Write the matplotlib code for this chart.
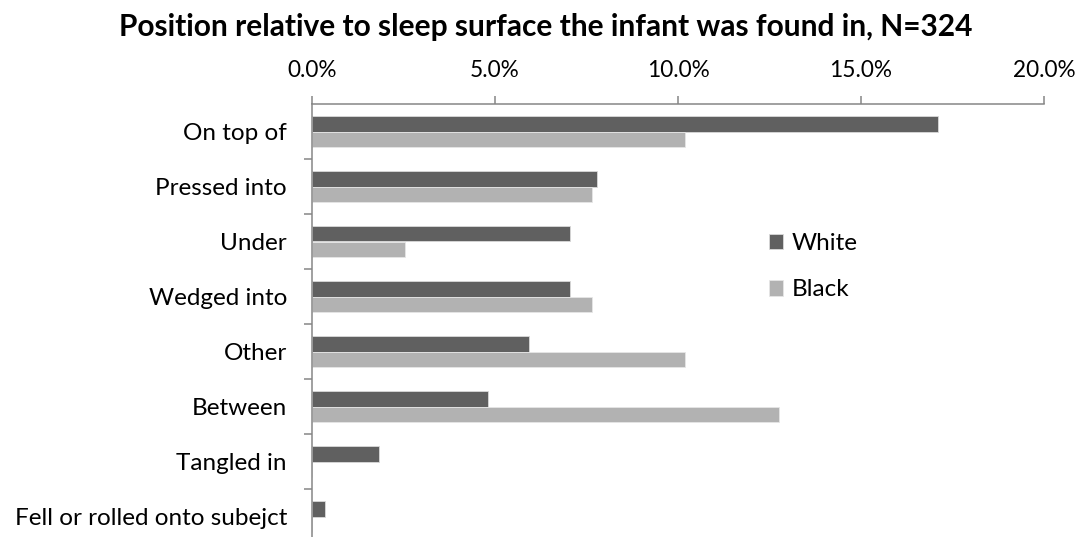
import numpy as np
import matplotlib.pyplot as plt
from matplotlib.ticker import FuncFormatter, FixedLocator

plt.rcParams['font.family'] = ['Lato', 'DejaVu Sans']

# Position of infant relative to the sleep surface, percent of cases by race
categories = ['On top of', 'Pressed into', 'Under', 'Wedged into', 'Other',
              'Between', 'Tangled in', 'Fell or rolled onto subejct']
white_pct = [17.1, 7.8, 7.05, 7.05, 5.93, 4.81, 1.84, 0.36]
black_pct = [10.2, 7.66, 2.53, 7.66, 10.2, 12.76, 0.0, 0.0]
series_names = ['White', 'Black']

color_white = '#606060'
color_black = '#b2b2b2'
axis_grey = '#868686'

figure = plt.figure(figsize=(10.83, 5.37), dpi=100)
axis = figure.add_axes([312 / 1083, 1 - 544 / 537, 732 / 1083, 440 / 537])

pos = np.arange(len(categories))
bar_h = 0.28
axis.barh(pos - bar_h / 2, white_pct, height=bar_h, color=color_white,
          edgecolor='#d9d9d9', linewidth=0.6, label=series_names[0])
axis.barh(pos + bar_h / 2, black_pct, height=bar_h, color=color_black,
          edgecolor='#e6e6e6', linewidth=0.6, label=series_names[1])

axis.set_xlim(0, 20)
axis.set_ylim(len(categories) - 0.5, -0.5)

# x axis on top, percent labels with one decimal
axis.xaxis.tick_top()
axis.set_xticks(np.arange(0, 20.1, 5))
axis.xaxis.set_major_formatter(FuncFormatter(lambda v, _: f'{v:.1f}%'))
axis.tick_params(axis='x', which='major', length=5.5, width=1.1, color=axis_grey,
                 labelsize=16.3, pad=11, labelcolor='black')

# category names at centres, tick marks between categories
axis.set_yticks(pos)
axis.set_yticklabels(categories)
axis.tick_params(axis='y', which='major', length=0, labelsize=17.5, pad=18)
axis.yaxis.set_minor_locator(FixedLocator(pos[:-1] + 0.5))
axis.tick_params(axis='y', which='minor', length=5.5, width=1.1, color=axis_grey)

for side in ['right', 'bottom']:
    axis.spines[side].set_visible(False)
for side in ['left', 'top']:
    axis.spines[side].set_color(axis_grey)
    axis.spines[side].set_linewidth(1.1)

figure.legend(loc='upper left', bbox_to_anchor=(747 / 1083, 1 - 211 / 537),
              frameon=False, fontsize=17.5, handlelength=0.6, handleheight=0.6,
              handletextpad=0.35, labelspacing=1.05)

figure.text(546 / 1083, 1 - 36 / 537,
            'Position relative to sleep surface the infant was found in, N=324',
            ha='center', va='baseline', fontsize=21.5, fontweight='bold')

figure.savefig('out.png', dpi=100)
